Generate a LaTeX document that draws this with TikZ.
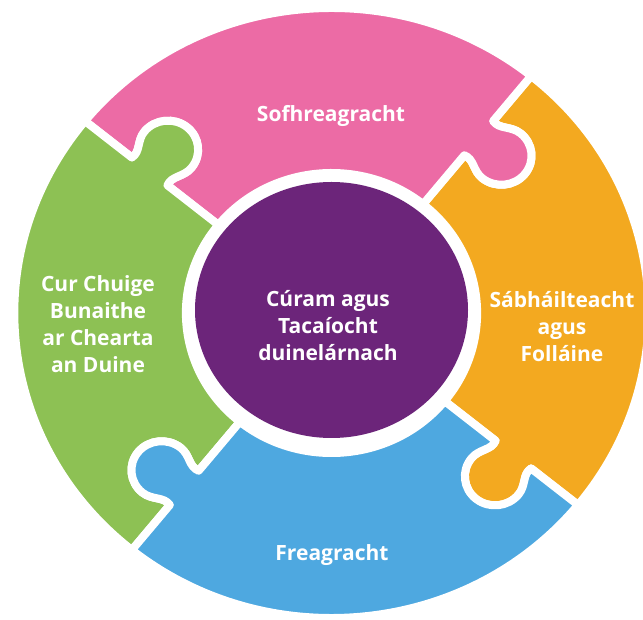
\documentclass[tikz,border=0pt]{standalone}
\usepackage{fontspec}
\setmainfont{Open Sans}
\usetikzlibrary{positioning}

\definecolor{pieceorange}{RGB}{243,169,32}
\definecolor{piecepink}{RGB}{236,107,165}
\definecolor{piecegreen}{RGB}{141,193,84}
\definecolor{pieceblue}{RGB}{78,168,224}
\definecolor{hubpurple}{RGB}{108,37,122}

\begin{document}
\begin{tikzpicture}[
    x=1pt, y=1pt,
    every node/.style={font=\fontsize{21}{27}\selectfont\bfseries, text=white, align=center},
    piece/.style={draw=white, line width=8pt, line join=round}
]

% Frame
\fill[white] (0,0) rectangle (643,619);
\useasboundingbox (0,0) rectangle (643,619);

% Ring pieces: seam at start angle, tab pokes into the clockwise neighbour
\begin{scope}[shift={(331.5,306)}, xscale=1.04]
\foreach \s/\col in {-39/pieceorange, 51/piecepink, 141/piecegreen, 231/pieceblue} {
    \pgfmathtruncatemacro{\e}{\s+90}
    \fill[fill=\col, piece] (\s:140)
      {[rotate=\s] -- (203,0) .. controls (206,-10) and (196,-16) .. (196,-28)
        arc[start angle=180, end angle=360, radius=29pt]
        .. controls (254,-16) and (244,-10) .. (247,0) -- (305,0)}
      arc[start angle=\s, end angle=\e, radius=305pt]
      {[rotate=\e] -- (247,0) .. controls (244,-10) and (254,-16) .. (254,-28)
        arc[start angle=360, end angle=180, radius=29pt]
        .. controls (196,-16) and (206,-10) .. (203,0) -- (140,0)}
      arc[start angle=\e, end angle=\s, radius=140pt] -- cycle;
}
\end{scope}

% Centre disc
\fill[hubpurple] (331.5,309) ellipse [x radius=136.5pt, y radius=128pt];

% Labels
\node (hub) at (328,293) {Cúram agus\\Tacaíocht\\duinelárnach};
\node (sofh) at (331,503) {Sofhreagracht};
\node (cearta) at (98,295) {Cur Chuige\\Bunaithe\\ar Chearta\\an Duine};
\node (slan) at (562,292) {Sábháilteacht\\agus\\Folláine};
\node (freag) at (332,64) {Freagracht};

\end{tikzpicture}
\end{document}
